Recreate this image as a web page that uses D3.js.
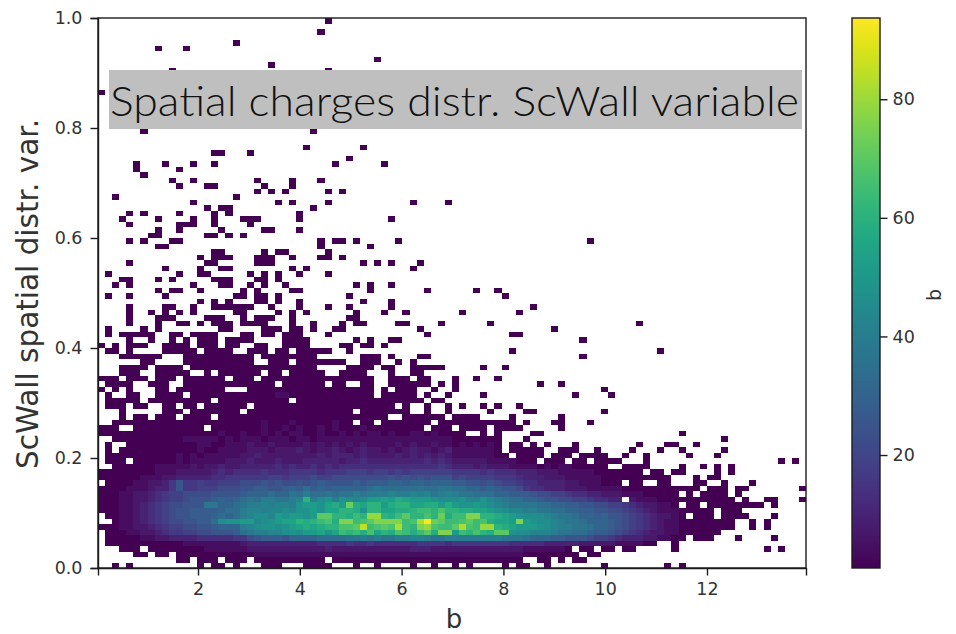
<!DOCTYPE html>
<html><head><meta charset="utf-8">
<script src="https://cdn.jsdelivr.net/npm/d3@7/dist/d3.min.js"></script>
<style>html,body{margin:0;padding:0;background:#fff}svg{display:block}</style>
</head><body><svg id="c" width="956" height="634"></svg>
<script>
const xTicks=[2,4,6,8,10,12];
const yTicks=[0,0.2,0.4,0.6,0.8,1.0];
const cbTicks=[20,40,60,80];
const xLabel="b", yLabel="ScWall spatial distr. var.", cbLabel="b";
const overlayTitle="Spatial charges distr. ScWall variable";
const xDomain=[0.035,13.945], yDomain=[0,1], cbDomain=[0.95,93.7];
const binCount=100;
// sparse rows (top of chart = row 0): [row, columns holding a count of 1...]
const sparseRows=[
[0,32],[2,31],[4,19],[5,8,12],[7,39],[8,24],[9,10,32],[13,0],[20,6,30],[23,29,37],[24,16,17,21],[25,35],
[26,5,9,13,16,33,40],[27,5,11],[28,6],[29,10,13,22,27,31],[30,11,15,16,23,27],[31,22,24,26,32,34],[32,2,19],
[33,13,25,27,32,44,49],[34,15,17,18,30],[35,4,6,11,16,18,28],[36,3,8,13,16,20,21,22,28,41],[37,4,11,12,13,16,21],
[38,8,11,17,23,24,28],[39,7,8,15,16,18,20],[40,4,6,10,11,31,33,34,36,42,69],[41,8,9,31,38],[42,16,17,23,25,26,32],
[43,14,16,17,18,22,23,24,27,31,32,34],[44,4,15,16,22,23,24,37,39,41,45],[45,9,14,17,18,27,29,44],
[46,1,11,14,15,21,23,25,28,32],[47,3,4,8,10,16,17,18,22,23,25],[48,2,4,13,17,18,21,23,26,36,38,41],
[49,8,10,11,14,20,22,27,28,38,46,53,56],[50,1,4,9,19,20,22,23,25,35,57],[51,14,16,18,22,23,25,28,37,41],
[52,4,9,10,13,16,17,18,19,20,21,24,28,32,35,41,61],[53,4,7,9,11,13,19,20,25,27,29,36,40,43,51,59],
[54,4,8,9,10,15,16,17,20,22,23,24,27,35,36],[55,4,8,11,12,14,16,17,18,20,21,22,23,27,30,34,36,37,42,43,48,55,76],
[56,1,6,8,17,18,23,24,25,27,28,30,33,34,45,64],[57,1,3,4,5,6,7,10,11,13,14,15,16,20,21,23,24,26,27,28,32,46,58,59],
[58,4,7,10,12,14,15,16,18,19,20,21,26,27,28,29,36,38,41,42,68],
[59,0,2,4,5,6,9,10,11,12,14,15,16,18,19,22,23,26,27,28,29,34,35,37,38,40],
[60,1,2,4,9,10,11,12,13,15,16,17,18,21,22,23,25,26,28,29,30,31,32,35,58,79],
[61,3,4,5,6,7,8,12,13,14,15,16,17,18,19,20,21,23,24,25,26,27,28,29,30,37,38,39,41,45,46,68],
[62,6,7,12,13,14,15,16,17,18,19,20,21,24,25,26,28,29,30,31,32,33,34,37,38,39,42,44],
[63,3,4,5,6,8,9,10,11,13,14,15,16,17,18,19,20,21,22,23,24,25,26,27,28,29,30,35,36,37,38,40,41,44,45,46,47,48,54,57],
[64,3,4,5,8,9,10,11,12,15,17,18,19,20,21,22,24,25,27,28,29,30,31,34,35,36,37,41,44,45]
];
// dense rows 65..99: one character per column, '.' = empty, base-36 digit d = count 3d+1
const denseStartRow=65;
const denseRows=[
"000.000.00 0.000000.0 00.0000000 000000000. .000.00... 0..0..0...",
".0000..000 ..00000000 00000.0000 00.00..00. .000000.0. 0......... ..0..0....",
"0.0.0...00 .0000000.. .000000000 000000000. 0.000..0.. 0......... .......... .0........",
".0..00..00 00.0000000 0000011000 000000000. 00000.0..0 ....0..... .......0.. ..0.......",
".00000.000 000000.000 0000000.00 0000000000 000000.00.",
".000.00..0 0.00.00000 0.00000000 0000000000 00.0..0..0 .0..0.0..0",
"...0.....0 00.0000000 .000000000 000000.000 0000..0..0 .....0.... 00........ .0........",
"...0.00.00 0.0000.000 0000000000 0000000000 0..000000. 0000....0. .....0....",
"..00000000 0000000000 0001000100 000100.00. 0000000.00 000000000. 0...00...0",
"000..00000 00000.0000 0001001010 0101000100 000000.000 .0000.0000 .....0....",
"0000000000 0000000100 1001010110 0100101011 0100110100 00..0.0... .00....... .......... ..0.......",
"..00000000 0011111010 1110111011 0111111111 1111111111 0000000... 0......... .......... ........0.",
".0..000000 0000110011 1211211112 1212121211 1121211211 0101010.00 .0.0...0.. ......0... 00..0.....",
".0.0000000 0000100111 1222122232 1223212322 1212322123 1111110.00 000..000.. 0....0...0 ..0.....0.",
".000000000 0101011111 2232222222 2323332322 2232323232 11111100.0 000.000.00 00..0..0.. ...0...0..",
".000.00000 0101111122 2322232223 3333233433 3333334343 2222211110 00.000.00. 0000...0.. .......... ......0.0.",
"..00000011 1112122322 3333343433 4343444444 4444444454 3332322211 1101011000 00..0000.. ..0..0.0.0",
"0000000011 1222223434 4445444555 5455566656 6565666666 5555454443 3322211111 0000000.00 .00....0.0",
"0000001112 2333334455 5555665666 7667777777 7878787888 6766665554 3332221111 1000000000 0...0.00..",
".000011223 5855655666 7778787787 8988889899 9aa9aa9aaa 9988787665 4433332211 1000.00..0 0...00..0. ..0.......",
"0000111233 5855666777 8899889a9b 9a9aaaaabc bbbbbcbbcc bbaa9a9887 5443332221 1111000000 00000.000. 00.......0",
"0001122345 6677778888 9aaabaacbd bbcbccdcdd deddedecde dccbbbaa99 9877665443 3222111000 00.0.0000. 0.........",
"0001122345 6678889a9a bcbddccdek dfgdgfefhh ihjihhhgff fgeegedcbb aa98877665 4433.21110 0000000000 .0..00...0",
"0001123456 77888ccaab cddedeedgh hgijhojikk hjkkiijjhj hgghgfedcc ccbbaa9988 7766543221 10.00.0000 0000.0....",
"0001123456 7889999abb deedeefegg hgiikkjgkk iijjkllkmk kjjiihgfee ddccbbaa99 8877654321 1100000.00 0.........",
".001123456 788999abab deffehghhg hnnkkjlkqq kjlnkkmkoj llppkkjihg fffedccbaa 9a88765432 210.000.00 00...0....",
"..01123456 778899bfgg hhefghiikj klmjpplmnp ppplmrvonl lmnlmjiihp hgffedccba aa98765432 1100000000 ..0.0.....",
"0001122345 6677889aaa defggfghij ijkkmmnslm nmrlkpqmll nrmlqqkjih hhgfeddccb aa98765432 1100000000 ..0.0.....",
".000112234 5566778889 bcddeefgfh higilkljmi kjmljlnjpp hlkmkjnngf feeedccbba 9987654322 11000000..",
".000001122 3333444445 5789998aaa abbbbccdcd ccddeedccd dddddddccc baaa998887 6654333221 100.000... 0....0....",
".000000000 0011111111 2333333333 3444454454 4444455554 5555555544 4443333322 222111100. .0........",
"...000.000 0000011111 1222222222 2232222222 2222333222 2222222222 1111110.00 .00.00.... .0........ ....0.0...",
".....00.00 .000000000 0011111111 1111111111 1111111111 1111111111 00000000.0 0.........",
".......... .00.000.00 0.00000000 00.0000000 0000000000 0000000000 ..00.0.00.",
"..0.0..... ....0.00.0 ...000...0 000...0..0 ....0..0.. 0.0....0.0 0..0...... .0........ 0.0......."
];
const cells=[];
sparseRows.forEach(([row,...cols])=>cols.forEach(col=>cells.push({row,col,count:1})));
denseRows.forEach((s,i)=>{
  [...s.replace(/ /g,"")].forEach((ch,col)=>{
    if(ch!==".")cells.push({row:denseStartRow+i,col,count:parseInt(ch,36)*3+1});
  });
});

const svg=d3.select("#c");
const L=98,R=806,T=18,B=568;
const x=d3.scaleLinear().domain(xDomain).range([L,R]);
const y=d3.scaleLinear().domain(yDomain).range([B,T]);
const color=d3.scaleSequential(d3.interpolateViridis).domain(cbDomain);
const xw=(xDomain[1]-xDomain[0])/binCount, yh=(yDomain[1]-yDomain[0])/binCount;
const fam="'DejaVu Sans',sans-serif", ink="#1c1c1c", txt="#333";

svg.append("g").attr("shape-rendering","crispEdges").selectAll("rect").data(cells).join("rect")
  .attr("x",d=>x(xDomain[0]+d.col*xw))
  .attr("width",d=>x(xDomain[0]+(d.col+1)*xw)-x(xDomain[0]+d.col*xw))
  .attr("y",d=>y(yDomain[1]-d.row*yh))
  .attr("height",d=>y(yDomain[1]-(d.row+1)*yh)-y(yDomain[1]-d.row*yh))
  .attr("fill",d=>color(d.count));

function style(g){
  g.selectAll("text").attr("font-family",fam).attr("font-size",17.5).attr("fill",txt);
  g.selectAll("line,path").attr("stroke",ink).attr("stroke-width",1.4);
}
svg.append("g").attr("transform",`translate(0,${B})`)
  .call(d3.axisBottom(x).tickValues(xTicks).tickFormat(d3.format("d")).tickSize(7.5).tickPadding(7)).call(style);
svg.append("g").attr("transform",`translate(${L},0)`)
  .call(d3.axisLeft(y).tickValues(yTicks).tickFormat(d3.format(".1f")).tickSize(7.5).tickPadding(8)).call(style);
svg.append("rect").attr("x",L).attr("y",T).attr("width",R-L).attr("height",B-T)
  .attr("fill","none").attr("stroke",ink).attr("stroke-width",1.4);

svg.append("text").attr("x",454).attr("y",627.5).attr("text-anchor","middle")
  .attr("font-family",fam).attr("font-size",26).attr("fill",txt).text(xLabel);
svg.append("text").attr("transform","translate(38,294) rotate(-90)").attr("text-anchor","middle")
  .attr("font-family",fam).attr("font-size",29.5).attr("fill",txt).text(yLabel);

// colour bar
const cbL=852,cbR=880;
const cy=d3.scaleLinear().domain(cbDomain).range([B,T]);
const grad=svg.append("defs").append("linearGradient").attr("id","vir")
  .attr("x1",0).attr("y1",1).attr("x2",0).attr("y2",0);
d3.range(0,1.0001,0.05).forEach(t=>grad.append("stop").attr("offset",t).attr("stop-color",d3.interpolateViridis(t)));
svg.append("rect").attr("x",cbL).attr("y",T).attr("width",cbR-cbL).attr("height",B-T)
  .attr("fill","url(#vir)").attr("stroke",ink).attr("stroke-width",1.4);
svg.append("g").attr("transform",`translate(${cbR},0)`)
  .call(d3.axisRight(cy).tickValues(cbTicks).tickFormat(d3.format("d")).tickSize(7.5).tickPadding(5)).call(style)
  .call(g=>g.select(".domain").remove());
svg.append("text").attr("transform","translate(941,295) rotate(-90)").attr("text-anchor","middle")
  .attr("font-family",fam).attr("font-size",19).attr("fill",txt).text(cbLabel);

// overlay title
svg.append("rect").attr("x",109).attr("y",70).attr("width",693).attr("height",59).attr("fill","#bfbfbf");
svg.append("text").attr("x",110).attr("y",116).attr("font-family","Lato,'Open Sans',sans-serif").attr("font-weight",300)
  .attr("font-size",42).attr("fill","#111").attr("textLength",689).attr("lengthAdjust","spacingAndGlyphs").text(overlayTitle);
</script></body></html>
